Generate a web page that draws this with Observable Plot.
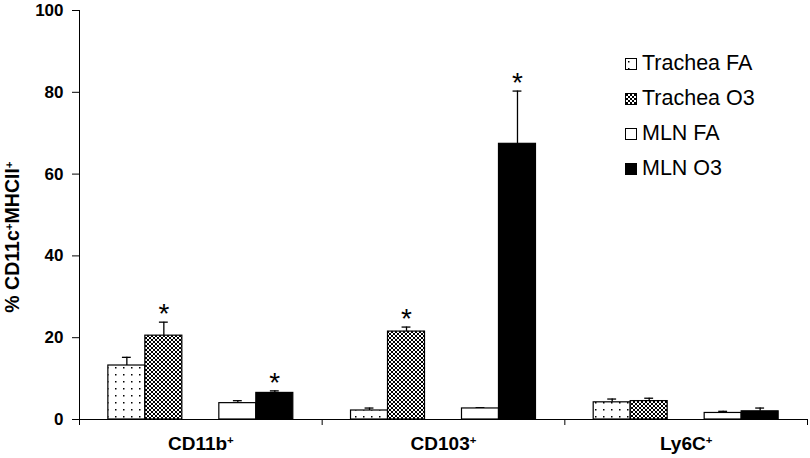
<!DOCTYPE html>
<html><head><meta charset="utf-8">
<script src="https://cdn.jsdelivr.net/npm/d3@7"></script>
<script src="https://cdn.jsdelivr.net/npm/@observablehq/plot@0.6"></script>
<style>
body{margin:0;background:#fff;font-family:"Liberation Sans",Arial,sans-serif;}
#wrap{position:relative;width:810px;height:458px;}
.legend{position:absolute;left:625px;top:46px;font-size:21.5px;color:#000;line-height:1;}
.legend .row{display:flex;align-items:center;height:35px;}
.legend svg{margin-right:5px;flex:none}
</style></head><body><div id="wrap"></div>
<script>
// ---- data ----
const categories = ["CD11b⁺", "CD103⁺", "Ly6C⁺"];
const seriesNames = ["Trachea FA", "Trachea O3", "MLN FA", "MLN O3"];
const meanTracheaFA = [13.2, 2.2, 4.2];
const meanTracheaO3 = [20.5, 21.5, 4.5];
const meanMLNFA     = [4.0, 2.7, 1.6];
const meanMLNO3     = [6.5, 67.4, 2.0];
const semTracheaFA = [2.0, 0.6, 0.8];
const semTracheaO3 = [3.3, 1.1, 0.7];
const semMLNFA     = [0.6, 0.2, 0.4];
const semMLNO3     = [0.5, 12.9, 0.8];
const sigTracheaO3 = [true, true, false];
const sigMLNO3     = [true, true, false];
const yTicks = [0, 20, 40, 60, 80, 100];
const yLabel = "% CD11c⁺MHCII⁺";

const means = [meanTracheaFA, meanTracheaO3, meanMLNFA, meanMLNO3];
const sems = [semTracheaFA, semTracheaO3, semMLNFA, semMLNO3];
const sigs = [null, sigTracheaO3, null, sigMLNO3];
const fills = ["url(#pDots)", "url(#pHatch)", "white", "black"];

// slots within a category band (gap between Trachea and MLN pairs)
const slots = ["Trachea FA", "Trachea O3", "gap", "MLN FA", "MLN O3"];
const slot = d3.scaleBand().domain(slots).range([0, 1]).paddingInner(0).paddingOuter(0.78);
const bw = slot.bandwidth();

const rows = [];
seriesNames.forEach((s, si) => {
  categories.forEach((c, ci) => {
    const x1 = ci + slot(s);
    rows.push({
      series: s, cat: c, value: means[si][ci], top: means[si][ci] + sems[si][ci],
      x1, x2: x1 + bw, xc: x1 + bw / 2, cl: x1 + bw * 0.38, cr: x1 + bw * 0.62,
      sig: sigs[si] ? sigs[si][ci] : false
    });
  });
});

const font = '"Liberation Sans", Arial, sans-serif';
const chart = Plot.plot({
  width: 810, height: 458,
  marginLeft: 79, marginRight: 3, marginTop: 10, marginBottom: 39,
  style: {fontFamily: font, fontSize: "17px", fontWeight: "bold", color: "black", background: "white"},
  x: {domain: [0, categories.length], ticks: d3.range(categories.length + 1), tickFormat: () => "", tickSize: 6, line: true, label: null},
  y: {domain: [0, 100], ticks: yTicks, tickSize: 7, tickPadding: 9, line: true, label: null},
  marks: [
    Plot.ruleX(rows, {x: "xc", y1: "value", y2: "top", stroke: "black", strokeWidth: 1.3}),
    Plot.ruleY(rows, {y: "top", x1: "cl", x2: "cr", stroke: "black", strokeWidth: 1.3}),
    ...seriesNames.map((s, si) => Plot.rectY(rows.filter(d => d.series === s), {
      x1: "x1", x2: "x2", y: "value", fill: fills[si], stroke: "black", strokeWidth: 1.2
    })),
    Plot.text(rows.filter(d => d.sig), {x: "xc", y: "top", text: () => "*", fontSize: 28, fontWeight: "normal", lineAnchor: "bottom", dy: 1}),
    Plot.text(categories, {x: (d, i) => i + 0.5, y: () => 0, text: d => d, fontSize: 19, fontWeight: "bold", lineAnchor: "middle", dy: 24}),
    Plot.text([yLabel], {text: d => d, frameAnchor: "left", textAnchor: "middle", rotate: -90, dx: -67, dy: 22, fontSize: 19.5, fontWeight: "bold"})
  ]
});

// patterns
d3.select(chart).insert("defs", ":first-child").html(`
<pattern id="pDots" patternUnits="userSpaceOnUse" width="8" height="7">
  <rect width="8" height="7" fill="white"/>
  <rect x="3" y="3" width="1.5" height="1.5" fill="black"/>
</pattern>
<pattern id="pHatch" patternUnits="userSpaceOnUse" width="4" height="4">
  <rect width="4" height="4" fill="white"/>
  <path d="M0,0L4,4M4,0L0,4" stroke="black" stroke-width="1"/>
</pattern>`);

// y tick labels: bold, larger
d3.select(chart).selectAll("text").each(function () {
  if (/^\d+$/.test(this.textContent.trim())) {
    this.style.fontSize = "17px";
    this.style.fontWeight = "bold";
  }
});

// superscript plus signs
d3.select(chart).selectAll("text").each(function () {
  const t = this.textContent;
  if (!t.includes("⁺")) return;
  const parts = t.split("⁺");
  const sel = d3.select(this);
  sel.text(null);
  parts.forEach((p, i) => {
    if (p) sel.append("tspan").text(p);
    if (i < parts.length - 1) sel.append("tspan").attr("baseline-shift", "super").attr("font-size", "60%").text("+");
  });
});

const wrap = document.getElementById("wrap");
wrap.appendChild(chart);

// legend
const legend = document.createElement("div");
legend.className = "legend";
seriesNames.forEach((s, si) => {
  const row = document.createElement("div");
  row.className = "row";
  row.innerHTML = `<svg width="12" height="12"><rect x="0.5" y="0.5" width="11" height="11" fill="${fills[si]}" stroke="black"/></svg><span>${s}</span>`;
  legend.appendChild(row);
});
wrap.appendChild(legend);
</script></body></html>
